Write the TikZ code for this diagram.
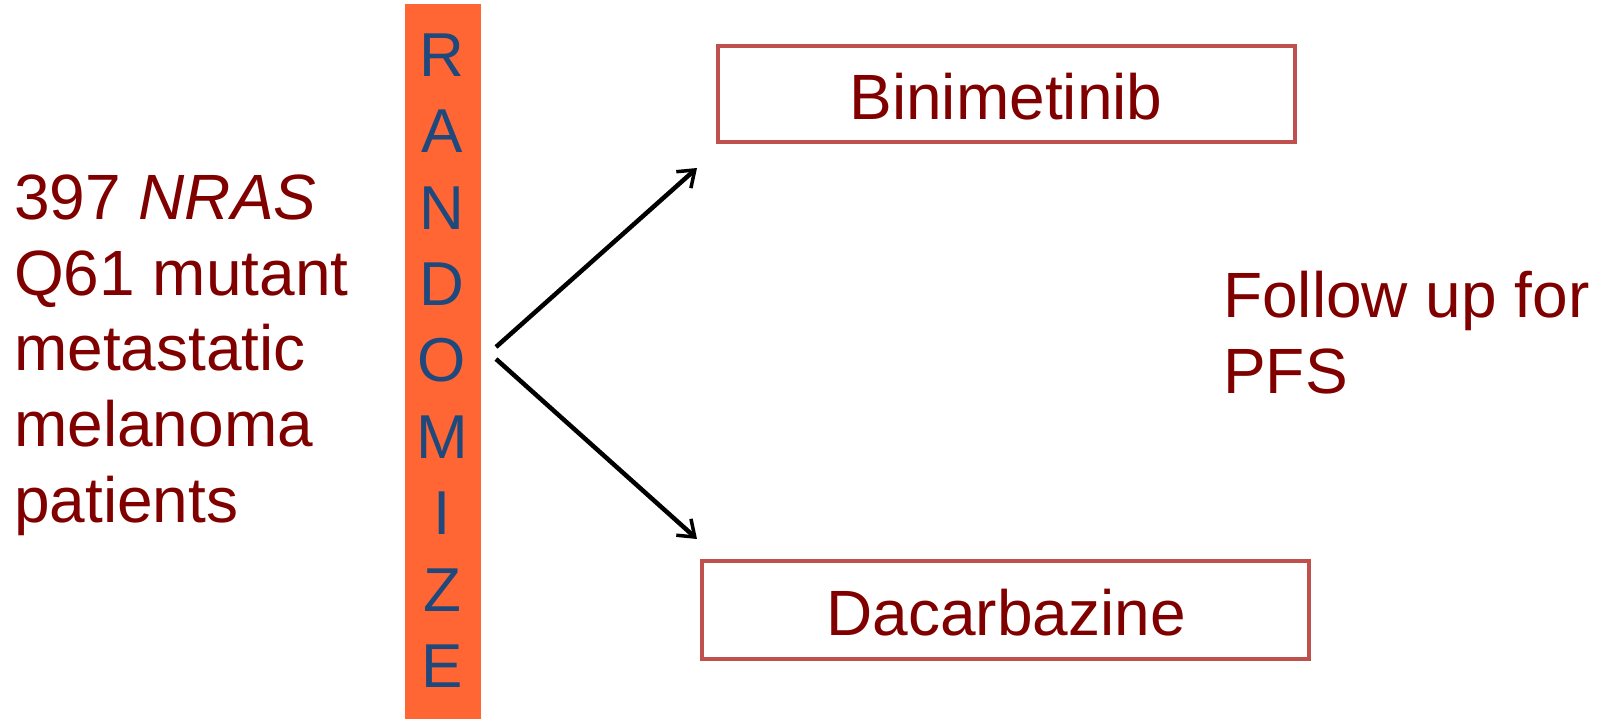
\documentclass[tikz,border=0pt]{standalone}
\usepackage{fontspec}
\setmainfont{Liberation Sans}
\usetikzlibrary{arrows.meta}
\definecolor{txtred}{HTML}{800000}
\definecolor{boxred}{HTML}{C0504D}
\definecolor{barorange}{HTML}{FF6633}
\definecolor{letterblue}{HTML}{1F497D}
\tikzset{
  big/.style={font=\fontsize{64}{75.6}\selectfont, text=txtred, inner sep=0pt},
  armbox/.style={draw=boxred, line width=4pt, fill=white, inner sep=0pt},
  conn/.style={line width=4.5pt, -{Straight Barb[length=15pt,width=22pt,line width=3.5pt]}},
  letter/.style={font=\fontsize{62}{62}\selectfont, text=letterblue, inner sep=0pt, anchor=center}
}
\begin{document}
\begin{tikzpicture}[x=1pt,y=-1pt]
\useasboundingbox (0,0) rectangle (1601,719);
\fill[white] (0,0) rectangle (1601,719);
% orange bar
\fill[barorange] (405,4) rectangle (481,719);
\foreach \L [count=\i from 0] in {R,A,N,D,O,M,I,Z,E}{
  \node[letter] (l\i) at (442,{55+76.4*\i}) {\L};
}
% left text
\node[big, anchor=base west, align=left] (pat) at (14,522)
  {397 \textit{NRAS}\\Q61 mutant\\metastatic\\melanoma\\patients};
% boxes
\node[armbox, minimum width=577pt, minimum height=96pt] (bini) at (1006.5,94) {};
\node[big, anchor=base] (binit) at (1006,120) {Binimetinib};
\node[armbox, minimum width=607pt, minimum height=98pt] (dac) at (1005.5,610) {};
\node[big, anchor=base] (dact) at (1006,635) {Dacarbazine};
% follow up
\node[big, anchor=base west, align=left] (fu) at (1223,393) {Follow up for\\PFS};
% arrows
\coordinate (s1) at (496,347);
\coordinate (e1) at (697,168);
\coordinate (s2) at (496,359);
\coordinate (e2) at (697,539);
\draw[conn] (s1) -- (e1);
\draw[conn] (s2) -- (e2);
\end{tikzpicture}
\end{document}
